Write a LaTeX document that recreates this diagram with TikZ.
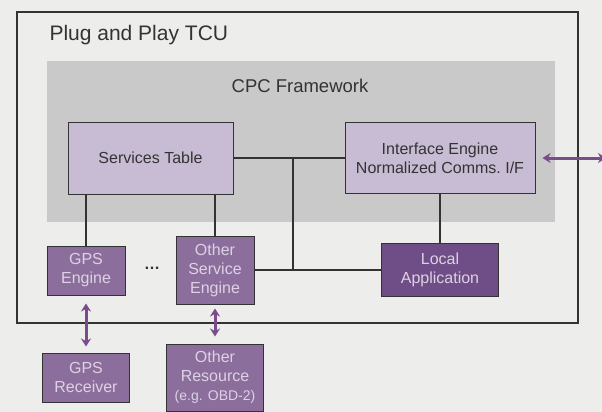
\documentclass[tikz,border=0pt]{standalone}
\usepackage{fontspec}
\setmainfont{Liberation Sans}
\usetikzlibrary{arrows.meta}
\definecolor{paper}{HTML}{EDEDEC}
\definecolor{frame}{HTML}{C9C9C9}
\definecolor{lilac}{HTML}{C8BCD4}
\definecolor{plum}{HTML}{8C6E9C}
\definecolor{deepplum}{HTML}{6F4D86}
\definecolor{plumtext}{HTML}{DDD2E4}
\definecolor{ink}{HTML}{333333}
\definecolor{linkpurple}{HTML}{7B4C8C}
\tikzset{
  box/.style={draw=ink, line width=1pt, minimum width=#1, inner sep=0pt, align=center,
    font=\fontsize{16}{19}\selectfont, text=ink},
  lightbox/.style={box=#1, fill=lilac},
  darkbox/.style={box=#1, fill=plum, text=plumtext},
  wire/.style={draw=ink, line width=2pt},
  link/.style={draw=linkpurple, line width=3pt, {Stealth[length=8pt,width=10pt]}-{Stealth[length=8pt,width=10pt]}}
}
\begin{document}
\begin{tikzpicture}[x=1pt, y=-1pt]
  \useasboundingbox[fill=paper] (0,0) rectangle (602,412);

  % outer TCU frame and the CPC framework area
  \node[draw=ink, line width=2pt, minimum width=561pt, minimum height=311pt, inner sep=0pt] (tcu) at (297.5,167.5) {};
  \node[fill=frame, minimum width=508pt, minimum height=161pt, inner sep=0pt] (cpc) at (301,141.5) {};
  \node[anchor=west, font=\fontsize{21}{25}\selectfont, text=ink] (tcutitle) at (46,35) {Plug and Play TCU};
  \node[font=\fontsize{18.5}{22}\selectfont, text=ink] (cpctitle) at (300,86) {CPC Framework};

  % framework components
  \node[lightbox=165pt, minimum height=72pt] (svc) at (150.5,158) {Services Table};
  \node[lightbox=190pt, minimum height=71pt] (ife) at (440,158) {Interface Engine\\Normalized Comms.\ I/F};

  % engines and applications
  \node[darkbox=78pt, minimum height=49pt] (gpse) at (86,270.5) {GPS\\Engine};
  \node[font=\fontsize{16}{19}\selectfont, text=ink] (dots) at (152,268) {\textbf{\dots}};
  \node[darkbox=78pt, minimum height=68pt] (ose) at (215,270) {Other\\Service\\Engine};
  \node[darkbox=117pt, minimum height=53pt, fill=deepplum] (loc) at (440,269.5) {Local\\Application};

  % external resources
  \node[darkbox=87pt, minimum height=49pt] (gpsr) at (86,377.5) {GPS\\Receiver};
  \node[darkbox=97pt, minimum height=67pt] (ores) at (215,377.5) {Other\\Resource\\{\fontsize{14}{17}\selectfont(e.g. OBD-2)}};

  % internal bus
  \coordinate (jtop) at (293,158);
  \coordinate (jbot) at (293,270);
  \coordinate (outside) at (606,158);
  \draw[wire] (svc.east) -- (svc.east -| ife.west);
  \draw[wire] (ose.east) -- (ose.east -| loc.west);
  \draw[wire] (jtop) -- (jbot);
  \draw[wire] (svc.south -| gpse.north) -- (gpse.north);
  \draw[wire] (svc.south -| ose.north) -- (ose.north);
  \draw[wire] (ife.south) -- (loc.north);

  % links to the outside world
  \draw[link, shorten <=7pt] (ife.east) -- (outside);
  \draw[link, shorten <=8pt, shorten >=6pt] (gpse.south) -- (gpsr.north);
  \draw[link, shorten <=4pt, shorten >=7pt] (ose.south) -- (ores.north);
\end{tikzpicture}
\end{document}
